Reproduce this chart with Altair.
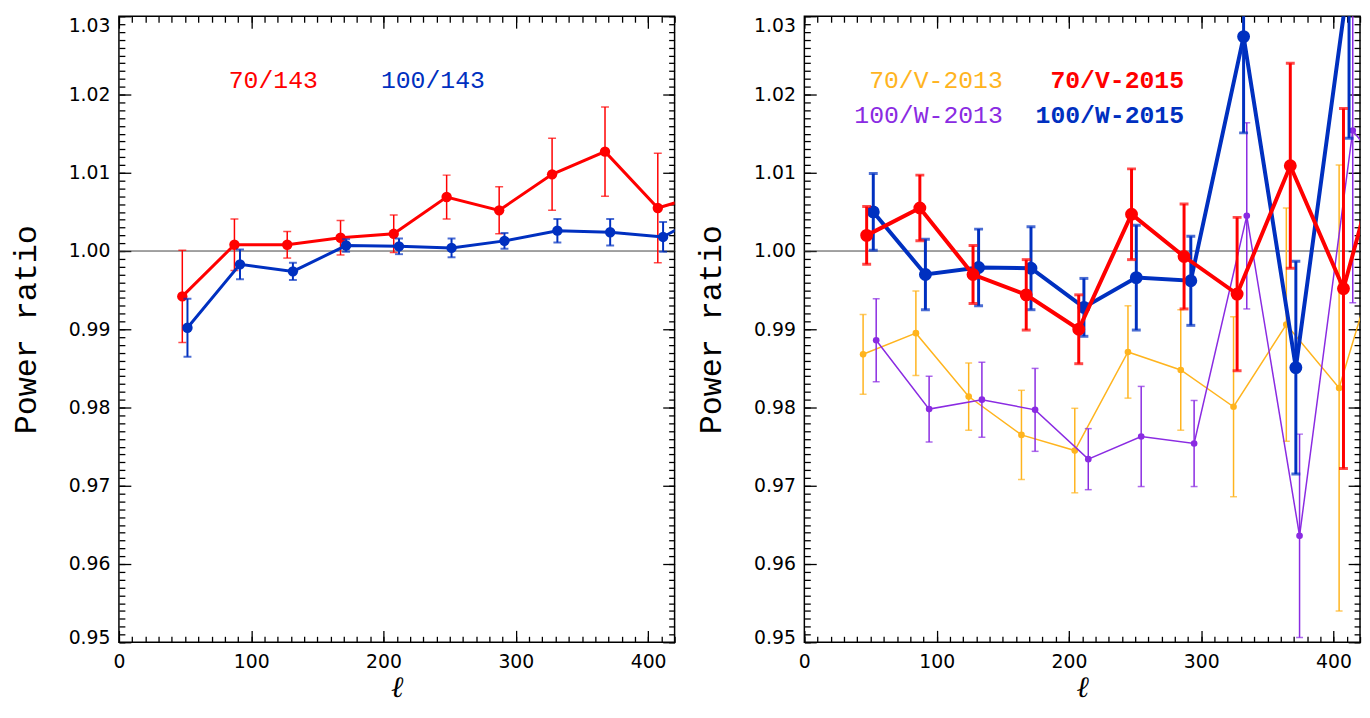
import altair as alt
import pandas as pd

# ---------------- data ----------------
# Left panel: 70/143 (red) and 100/143 (blue)
L_RED_ELL = [47.9, 87.3, 127.2, 167.5, 207.7, 247.7, 287.4, 327.4, 367.4, 407.3, 447.0]
L_RED_VAL = [0.9942, 1.0008, 1.0008, 1.0017, 1.0022, 1.0069, 1.0052, 1.0098, 1.0127, 1.0055, 1.0075]
L_RED_ERR = [0.0059, 0.0033, 0.0017, 0.0022, 0.0024, 0.0028, 0.0030, 0.0046, 0.0057, 0.0070, 0.0070]

L_BLUE_ELL = [51.8, 91.5, 131.5, 171.7, 211.7, 251.4, 291.4, 331.4, 371.3, 411.3, 451.0]
L_BLUE_VAL = [0.9902, 0.9983, 0.9974, 1.0007, 1.0006, 1.0004, 1.0013, 1.0026, 1.0024, 1.0018, 1.0055]
L_BLUE_ERR = [0.0037, 0.0019, 0.0011, 0.0008, 0.0010, 0.0012, 0.0010, 0.0015, 0.0017, 0.0019, 0.0020]

# Right panel
R_ORANGE_ELL = [44.4, 84.3, 124.2, 164.1, 204.4, 244.6, 284.5, 324.4, 364.3, 404.2, 444.0]
R_ORANGE_VAL = [0.9868, 0.9895, 0.9814, 0.9765, 0.9745, 0.9871, 0.9848, 0.9801, 0.9906, 0.9825, 1.0050]
R_ORANGE_ERR = [0.0051, 0.0054, 0.0043, 0.0057, 0.0054, 0.0059, 0.0077, 0.0115, 0.0149, 0.0285, 0.0200]

R_PURPLE_ELL = [54.3, 94.3, 134.2, 174.4, 214.6, 254.6, 294.6, 334.4, 374.3, 414.5, 454.0]
R_PURPLE_VAL = [0.9886, 0.9798, 0.9810, 0.9797, 0.9734, 0.9763, 0.9754, 1.0045, 0.9636, 1.0154, 1.0069]
R_PURPLE_ERR = [0.0053, 0.0042, 0.0048, 0.0053, 0.0039, 0.0064, 0.0055, 0.0119, 0.0130, 0.0220, 0.0200]

R_BLUE_ELL = [52.1, 91.5, 131.7, 171.3, 211.3, 250.9, 292.1, 332.0, 371.5, 411.7]
R_BLUE_VAL = [1.0050, 0.9970, 0.9979, 0.9978, 0.9928, 0.9966, 0.9962, 1.0274, 0.9851, 1.0352]
R_BLUE_ERR = [0.0049, 0.0045, 0.0049, 0.0053, 0.0037, 0.0067, 0.0057, 0.0123, 0.0136, 0.0208]

R_RED_ELL = [47.1, 87.3, 127.5, 167.7, 207.4, 247.3, 287.0, 327.1, 367.3, 407.5, 447.5]
R_RED_VAL = [1.0020, 1.0055, 0.9970, 0.9944, 0.9900, 1.0047, 0.9993, 0.9945, 1.0109, 0.9952, 1.0200]
R_RED_ERR = [0.0037, 0.0042, 0.0037, 0.0045, 0.0044, 0.0058, 0.0067, 0.0098, 0.0131, 0.0230, 0.0200]

# legend labels
LEFT_LABELS = ["70/143", "100/143"]
LEFT_LABEL_ELL = [83.0, 198.0]
LEFT_LABEL_VAL = [1.0219, 1.0219]
RIGHT_LABELS = ["70/V-2013", "70/V-2015", "100/W-2013", "100/W-2015"]
RIGHT_LABEL_ELL = [150.0, 287.0, 150.0, 287.0]
RIGHT_LABEL_VAL = [1.0219, 1.0219, 1.0174, 1.0174]

# axes
X_DOMAIN = [0, 420]
Y_DOMAIN = [0.95, 1.03]
X_MAJOR = [0, 100, 200, 300, 400]
X_MINOR = [10 * i for i in range(43)]
Y_MAJOR = [0.95, 0.96, 0.97, 0.98, 0.99, 1.00, 1.01, 1.02, 1.03]
Y_MINOR = [round(0.95 + 0.001 * i, 3) for i in range(81)]

RED = "#ff0000"
BLUE = "#0030c0"
ORANGE = "#ffb41e"
PURPLE = "#8a2be2"

W, H = 561, 632
xs = alt.Scale(domain=X_DOMAIN, nice=False, zero=False)
ys = alt.Scale(domain=Y_DOMAIN, nice=False, zero=False)

LABEL_FONT = "DejaVu Sans"
LABEL_SIZE = 19


def series_layers(ell, val, err, color, line_w, bar_w, pt_size, cap):
    df = pd.DataFrame({"ell": ell, "val": val, "err": err})
    df["lo"] = df["val"] - df["err"]
    df["hi"] = df["val"] + df["err"]
    X = alt.X("ell:Q", scale=xs, axis=None)
    bars = alt.Chart(df).mark_rule(color=color, strokeWidth=bar_w, clip=True).encode(
        x=X, y=alt.Y("lo:Q", scale=ys, axis=None), y2="hi:Q")
    cap_lo = alt.Chart(df).mark_tick(color=color, orient="horizontal", size=cap,
                                     thickness=bar_w, clip=True).encode(
        x=X, y=alt.Y("lo:Q", scale=ys, axis=None))
    cap_hi = alt.Chart(df).mark_tick(color=color, orient="horizontal", size=cap,
                                     thickness=bar_w, clip=True).encode(
        x=X, y=alt.Y("hi:Q", scale=ys, axis=None))
    line = alt.Chart(df).mark_line(color=color, strokeWidth=line_w, clip=True).encode(
        x=X, y=alt.Y("val:Q", scale=ys, axis=None))
    pts = alt.Chart(df).mark_point(color=color, filled=True, opacity=1, size=pt_size,
                                   clip=True).encode(
        x=X, y=alt.Y("val:Q", scale=ys, axis=None))
    return [bars, cap_lo, cap_hi, line, pts]


def text_layer(label, ell, val, color, align, weight):
    df = pd.DataFrame({"ell": [ell], "val": [val], "label": [label]})
    return alt.Chart(df).mark_text(color=color, align=align, baseline="middle",
                                   font="Liberation Mono", fontSize=25,
                                   fontWeight=weight).encode(
        x=alt.X("ell:Q", scale=xs, axis=None),
        y=alt.Y("val:Q", scale=ys, axis=None),
        text="label:N")


anchor = pd.DataFrame({"ell": [X_DOMAIN[0]], "val": [Y_DOMAIN[0]]})


def axis_layer(xaxis, yaxis):
    return alt.Chart(anchor).mark_point(opacity=0).encode(
        x=alt.X("ell:Q", scale=xs, axis=xaxis),
        y=alt.Y("val:Q", scale=ys, axis=yaxis))


def tick_axis(orient, values, size):
    return alt.Axis(orient=orient, values=values, offset=-size, tickSize=size,
                    ticks=True, labels=False, domain=False, grid=False,
                    tickColor="black", tickWidth=1.3, title=None)


def ylabel_axis(values, baseline, offset, title):
    kw = dict(orient="left", values=values, ticks=False, domain=False, grid=False,
              labelFont=LABEL_FONT, labelFontSize=LABEL_SIZE, labelColor="black",
              labelPadding=9, labelFlush=False, labelOverlap=False, format=".2f",
              labelBaseline=baseline, labelOffset=offset)
    if title:
        kw.update(title="Power ratio", titleFont="Liberation Mono", titleFontSize=32,
                  titleFontWeight="normal", titleColor="black", titlePadding=26)
    else:
        kw.update(title=None)
    return alt.Axis(**kw)


def axis_layers():
    lab = axis_layer(
        alt.Axis(orient="bottom", values=X_MAJOR, ticks=False, domain=False, grid=False,
                 labelFont=LABEL_FONT, labelFontSize=LABEL_SIZE, labelColor="black",
                 labelPadding=10, labelFlush=False, labelOverlap=False, format="d",
                 title="ℓ", titleFont="DejaVu Serif", titleFontStyle="italic",
                 titleFontSize=30, titleFontWeight="normal", titleColor="black",
                 titlePadding=2),
        ylabel_axis(Y_MAJOR[1:-1], "middle", 0, True))
    lab_top = axis_layer(None, ylabel_axis(Y_MAJOR[-1:], "top", 0, False))
    lab_bot = axis_layer(None, ylabel_axis(Y_MAJOR[:1], "middle", -5, False))
    major1 = axis_layer(tick_axis("bottom", X_MAJOR, 12), tick_axis("left", Y_MAJOR, 12))
    minor1 = axis_layer(tick_axis("bottom", X_MINOR, 6), tick_axis("left", Y_MINOR, 6))
    major2 = axis_layer(tick_axis("top", X_MAJOR, 12), tick_axis("right", Y_MAJOR, 12))
    minor2 = axis_layer(tick_axis("top", X_MINOR, 6), tick_axis("right", Y_MINOR, 6))
    return [lab, lab_top, lab_bot, major1, minor1, major2, minor2]


def zero_line():
    return alt.Chart(pd.DataFrame({"val": [1.0]})).mark_rule(
        color="#444444", strokeWidth=1).encode(y=alt.Y("val:Q", scale=ys, axis=None))


# ---------------- left panel ----------------
left_layers = axis_layers() + [zero_line()]
left_layers += series_layers(L_RED_ELL, L_RED_VAL, L_RED_ERR, RED, 3, 1.5, 110, 8)
left_layers += series_layers(L_BLUE_ELL, L_BLUE_VAL, L_BLUE_ERR, BLUE, 3, 2, 110, 8)
left_layers.append(text_layer(LEFT_LABELS[0], LEFT_LABEL_ELL[0], LEFT_LABEL_VAL[0], RED, "left", "normal"))
left_layers.append(text_layer(LEFT_LABELS[1], LEFT_LABEL_ELL[1], LEFT_LABEL_VAL[1], BLUE, "left", "normal"))
left = alt.layer(*left_layers).resolve_axis(x="independent", y="independent").properties(
    width=W, height=H)

# ---------------- right panel ----------------
right_layers = axis_layers() + [zero_line()]
right_layers += series_layers(R_ORANGE_ELL, R_ORANGE_VAL, R_ORANGE_ERR, ORANGE, 1.5, 1.5, 45, 7)
right_layers += series_layers(R_PURPLE_ELL, R_PURPLE_VAL, R_PURPLE_ERR, PURPLE, 1.5, 1.5, 45, 7)
right_layers += series_layers(R_BLUE_ELL, R_BLUE_VAL, R_BLUE_ERR, BLUE, 4, 3, 170, 9)
right_layers += series_layers(R_RED_ELL, R_RED_VAL, R_RED_ERR, RED, 4, 3, 170, 9)
colors_r = [ORANGE, RED, PURPLE, BLUE]
weights_r = ["normal", "bold", "normal", "bold"]
for i in range(4):
    right_layers.append(text_layer(RIGHT_LABELS[i], RIGHT_LABEL_ELL[i], RIGHT_LABEL_VAL[i],
                                   colors_r[i], "right", weights_r[i]))
right = alt.layer(*right_layers).resolve_axis(x="independent", y="independent").properties(
    width=W, height=H)

chart = alt.hconcat(left, right, spacing=17).configure_view(
    stroke="black", strokeWidth=1.5).properties(
    padding={"left": 0, "top": 3, "right": 0, "bottom": 0},
    background="white")

chart.save("out.html", embed_options={"renderer": "svg", "actions": False})
